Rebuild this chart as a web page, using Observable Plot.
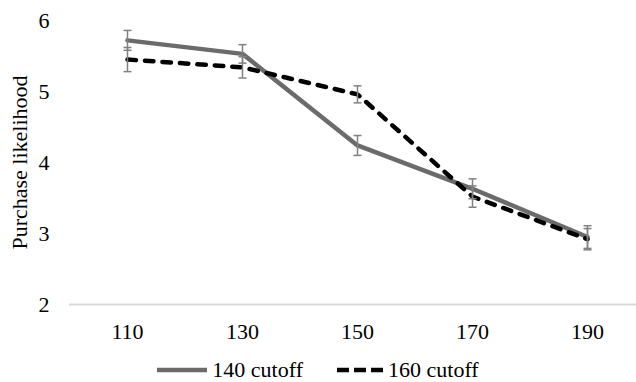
<!DOCTYPE html>
<html>
<head>
<meta charset="utf-8">
<script src="https://cdn.jsdelivr.net/npm/d3@7"></script>
<script src="https://cdn.jsdelivr.net/npm/@observablehq/plot@0.6"></script>
<style>
  html, body { margin: 0; padding: 0; background: #fff; }
  body { width: 636px; height: 382px; overflow: hidden; font-family: "Liberation Serif", "DejaVu Serif", "Times New Roman", Times, serif; }
  #legend { display: flex; justify-content: center; align-items: center; height: 25px; font-size: 22px; color: #000; }
  .item { display: flex; align-items: center; }
  .item svg { margin-right: 5px; }
</style>
</head>
<body>
<div id="chart"></div>
<div id="legend"></div>
<script>
const prices = [110, 130, 150, 170, 190];
const series = ["140 cutoff", "160 cutoff"];
const mean140 = [5.72, 5.53, 4.24, 3.63, 2.95];
const err140  = [0.14, 0.13, 0.14, 0.14, 0.16];
const mean160 = [5.45, 5.34, 4.96, 3.52, 2.92];
const err160  = [0.17, 0.15, 0.12, 0.15, 0.15];
const yTicks = [2, 3, 4, 5, 6];

const rows = [];
prices.forEach((p, i) => {
  rows.push({price: p, series: series[0], mean: mean140[i], lo: mean140[i] - err140[i], hi: mean140[i] + err140[i]});
});
prices.forEach((p, i) => {
  rows.push({price: p, series: series[1], mean: mean160[i], lo: mean160[i] - err160[i], hi: mean160[i] + err160[i]});
});

const capSymbol = {
  draw(context, size) {
    const r = Math.sqrt(size / Math.PI);
    context.moveTo(-r, 0);
    context.lineTo(r, 0);
  }
};

const FONT = '"Liberation Serif", "DejaVu Serif", "Times New Roman", Times, serif';
const errColor = "#808080";
const chart = Plot.plot({
  width: 636,
  height: 357,
  marginLeft: 69,
  marginRight: 0,
  marginTop: 20,
  marginBottom: 53,
  style: {fontFamily: FONT, fontSize: "22px", color: "#000", background: "#fff"},
  x: {type: "point", domain: prices, range: [126.5, 588], padding: 0},
  y: {domain: [2, 6], ticks: yTicks},
  marks: [
    Plot.ruleY([2], {stroke: "#d9d9d9", strokeWidth: 2}),
    Plot.axisY({ticks: yTicks, tickSize: 0, tickPadding: 20, tickFormat: d => String(d), label: "Purchase likelihood", labelArrow: "none", labelAnchor: "center", labelOffset: 58, fontSize: 22}),
    Plot.axisX({tickSize: 0, tickPadding: 19, label: null, fontSize: 22, tickFormat: d => String(d)}),
    Plot.line(rows.filter(d => d.series === series[0]), {x: "price", y: "mean", stroke: "#6b6b6b", strokeWidth: 4.5, strokeLinejoin: "round"}),
    Plot.line(rows.filter(d => d.series === series[1]), {x: "price", y: "mean", stroke: "#000", strokeWidth: 4.5, strokeDasharray: "8.5,9", strokeLinecap: "round", strokeLinejoin: "round"}),
    Plot.ruleX(rows, {x: "price", y1: "lo", y2: "hi", stroke: errColor, strokeWidth: 1.5}),
    Plot.dot(rows, {x: "price", y: "lo", symbol: capSymbol, r: 4, stroke: errColor, strokeWidth: 1.5, fill: "none"}),
    Plot.dot(rows, {x: "price", y: "hi", symbol: capSymbol, r: 4, stroke: errColor, strokeWidth: 1.5, fill: "none"})
  ]
});
document.getElementById("chart").appendChild(chart);

const legend = document.getElementById("legend");
const styles = [
  {stroke: "#6b6b6b", dash: null, w: 50},
  {stroke: "#000", dash: "12,5", w: 46}
];
series.forEach((name, i) => {
  const s = styles[i];
  const item = document.createElement("div");
  item.className = "item";
  if (i > 0) item.style.marginLeft = "34px";
  const ns = "http://www.w3.org/2000/svg";
  const svg = document.createElementNS(ns, "svg");
  svg.setAttribute("width", s.w);
  svg.setAttribute("height", 10);
  const line = document.createElementNS(ns, "line");
  line.setAttribute("x1", 0); line.setAttribute("x2", s.w);
  line.setAttribute("y1", 5); line.setAttribute("y2", 5);
  line.setAttribute("stroke", s.stroke);
  line.setAttribute("stroke-width", 4.5);
  if (s.dash) line.setAttribute("stroke-dasharray", s.dash);
  svg.appendChild(line);
  const span = document.createElement("span");
  span.textContent = name;
  item.appendChild(svg);
  item.appendChild(span);
  legend.appendChild(item);
});
</script>
</body>
</html>
